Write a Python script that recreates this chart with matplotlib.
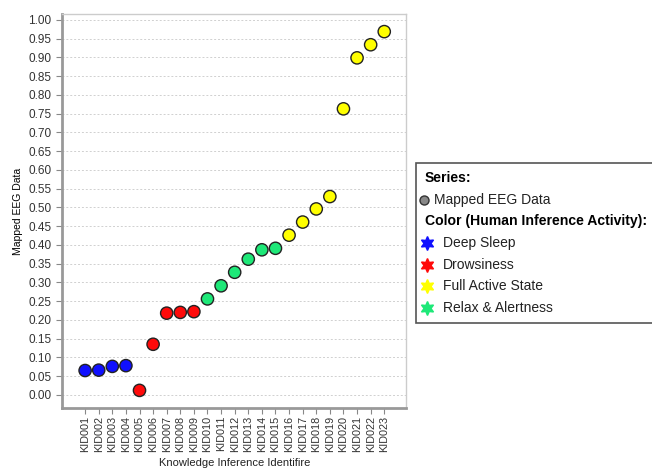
import matplotlib
matplotlib.use("Agg")
import matplotlib.pyplot as plt
from matplotlib.patches import Rectangle
from matplotlib.lines import Line2D

plt.rcParams['font.family'] = ['Liberation Sans', 'DejaVu Sans']

ids = ["KID%03d" % i for i in range(1, 24)]
values = [0.065, 0.066, 0.076, 0.078, 0.012, 0.135, 0.218, 0.220, 0.222,
          0.256, 0.291, 0.327, 0.362, 0.387, 0.391,
          0.426, 0.461, 0.496, 0.529, 0.763, 0.899, 0.934, 0.969]
states = ["Deep Sleep"] * 4 + ["Drowsiness"] * 5 + ["Relax & Alertness"] * 6 + ["Full Active State"] * 8
state_order = ["Deep Sleep", "Drowsiness", "Full Active State", "Relax & Alertness"]
state_colors = {"Deep Sleep": "#1010ff", "Drowsiness": "#ff0a0a",
                "Full Active State": "#ffff00", "Relax & Alertness": "#1ee878"}

fig = plt.figure(figsize=(6.52, 4.68), dpi=100)
ax = fig.add_axes([62/652, 1-408/468, (406-62)/652, (408-14)/468])

xs = list(range(len(ids)))
ax.scatter(xs, values, s=78, c=[state_colors[s] for s in states],
           edgecolors="#222222", linewidths=1.0, zorder=3)

ax.set_xlim(-1.7, len(ids) - 1 + 1.6)
ax.set_ylim(-0.035, 1.016)
ax.set_yticks([i * 0.05 for i in range(21)])
ax.set_yticklabels(["%.2f" % (i * 0.05) for i in range(21)], fontsize=8.5, color="#333333")
ax.set_xticks(xs)
ax.set_xticklabels(ids, rotation=90, fontsize=7.8, color="#333333")
ax.tick_params(axis='both', length=4, width=0.8, color="#888888")
ax.tick_params(axis='x', pad=1.5)
ax.yaxis.grid(True, linestyle=(0, (2, 2)), color="#d0d0d0", linewidth=0.7)
ax.set_axisbelow(True)
for side in ["top", "right"]:
    ax.spines[side].set_color("#cccccc")
    ax.spines[side].set_linewidth(1.0)
for side in ["left", "bottom"]:
    ax.spines[side].set_color("#999999")
    ax.spines[side].set_linewidth(2.0)

ax.set_ylabel("Mapped EEG Data", fontsize=7.5, labelpad=4)

W, H = 652.0, 468.0
def fx(x): return x / W
def fy(y): return 1 - y / H

fig.text(fx(235), fy(467.5), "Knowledge Inference Identifire", fontsize=8.0,
         ha="center", va="bottom", color="#222222")

# legend box
fig.patches.append(Rectangle((fx(416), fy(323)), fx(652 - 416 + 10), (323 - 163) / H,
                             transform=fig.transFigure, facecolor="white",
                             edgecolor="#555555", linewidth=1.2, zorder=5))
fig.text(fx(425), fy(178), "Series:", fontsize=10, fontweight="bold", va="center", zorder=6)
fig.lines.append(Line2D([fx(424)], [fy(200)], marker="o", markersize=6.5, color="#888888",
                        markeredgecolor="#333333", transform=fig.transFigure, zorder=6))
fig.text(fx(434), fy(200), "Mapped EEG Data", fontsize=10, va="center", color="#222222", zorder=6)
fig.text(fx(425), fy(221), "Color (Human Inference Activity):", fontsize=10.1,
         fontweight="bold", va="center", zorder=6)
for i, st in enumerate(state_order):
    y = 243 + i * 21.7
    fig.lines.append(Line2D([fx(427)], [fy(y)], marker=(6, 1, 0), markersize=10,
                            color=state_colors[st], markeredgecolor=state_colors[st],
                            transform=fig.transFigure, zorder=6))
    fig.text(fx(443), fy(y), st, fontsize=10, va="center", color="#222222", zorder=6)

fig.savefig("out.png", dpi=100)
